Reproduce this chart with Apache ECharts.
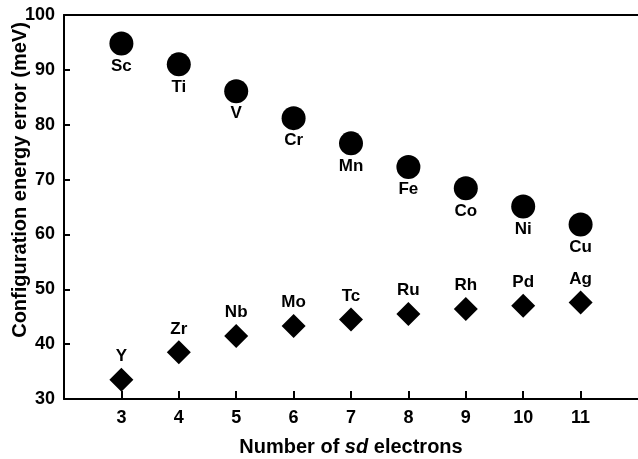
<!DOCTYPE html>
<html><head><meta charset="utf-8">
<script src="https://cdn.jsdelivr.net/npm/echarts@6/dist/echarts.min.js"></script>
<style>html,body{margin:0;padding:0;background:#fff}#c{width:638px;height:459px}</style>
</head><body><div id="c"></div>
<script>
var sdCounts = [3, 4, 5, 6, 7, 8, 9, 10, 11];
var elements3d = ['Sc', 'Ti', 'V', 'Cr', 'Mn', 'Fe', 'Co', 'Ni', 'Cu'];
var errors3d = [94.8, 91.0, 86.1, 81.2, 76.6, 72.3, 68.4, 65.1, 61.8];
var elements4d = ['Y', 'Zr', 'Nb', 'Mo', 'Tc', 'Ru', 'Rh', 'Pd', 'Ag'];
var errors4d = [33.5, 38.5, 41.5, 43.3, 44.5, 45.5, 46.4, 47.0, 47.6];
var xTicks = [3, 4, 5, 6, 7, 8, 9, 10, 11];

var FONT = '"Liberation Sans", Arial, Helvetica, sans-serif';
function pts(xs, ys, names) {
  return xs.map(function (x, i) { return { value: [x, ys[i]], name: names[i] }; });
}
var chart = echarts.init(document.getElementById('c'), null, { renderer: 'canvas' });
chart.setOption({
  animation: false,
  backgroundColor: '#fff',
  grid: { left: 64, right: 0, top: 15, bottom: 60, outerBoundsMode: 'none' },
  xAxis: [{
    type: 'value', min: 2, max: 12, interval: 1,
    axisLine: { show: true, lineStyle: { color: '#000', width: 2 } },
    axisTick: { show: true, inside: true, length: 8, customValues: xTicks, lineStyle: { color: '#000', width: 2 } },
    axisLabel: { customValues: xTicks, color: '#000', fontFamily: FONT, fontWeight: 'bold', fontSize: 18, margin: 10 },
    splitLine: { show: false },
    name: '{a|Number of }{b|sd}{a| electrons}',
    nameLocation: 'middle', nameGap: 38, nameMoveOverlap: false,
    nameTextStyle: {
      rich: {
        a: { color: '#000', fontFamily: FONT, fontWeight: 'bold', fontSize: 20 },
        b: { color: '#000', fontFamily: FONT, fontWeight: 'bold', fontStyle: 'italic', fontSize: 20 }
      }
    }
  }, {
    type: 'value', min: 2, max: 12, position: 'top',
    axisLine: { show: true, lineStyle: { color: '#000', width: 2 } },
    axisTick: { show: false }, axisLabel: { show: false }, splitLine: { show: false }
  }],
  yAxis: {
    type: 'value', min: 30, max: 100, interval: 10,
    axisLine: { show: true, lineStyle: { color: '#000', width: 2 } },
    axisTick: { show: true, inside: true, length: 6, lineStyle: { color: '#000', width: 2 } },
    axisLabel: { color: '#000', fontFamily: FONT, fontWeight: 'bold', fontSize: 18, margin: 9 },
    splitLine: { show: false },
    name: 'Configuration energy error (meV)',
    nameLocation: 'middle', nameGap: 34, nameMoveOverlap: false,
    nameTextStyle: { color: '#000', fontFamily: FONT, fontWeight: 'bold', fontSize: 20, padding: [0, 0, 0, 54] }
  },
  series: [{
    type: 'scatter', symbol: 'circle', symbolSize: 24,
    itemStyle: { color: '#000', opacity: 1 },
    data: pts(sdCounts, errors3d, elements3d),
    label: { show: true, position: 'bottom', distance: 2, formatter: '{b}', color: '#000', fontFamily: FONT, fontWeight: 'bold', fontSize: 17 }
  }, {
    type: 'scatter', symbol: 'diamond', symbolSize: 24,
    itemStyle: { color: '#000', opacity: 1 },
    data: pts(sdCounts, errors4d, elements4d),
    label: { show: true, position: 'top', distance: 3, formatter: '{b}', color: '#000', fontFamily: FONT, fontWeight: 'bold', fontSize: 17 }
  }]
});
</script></body></html>
